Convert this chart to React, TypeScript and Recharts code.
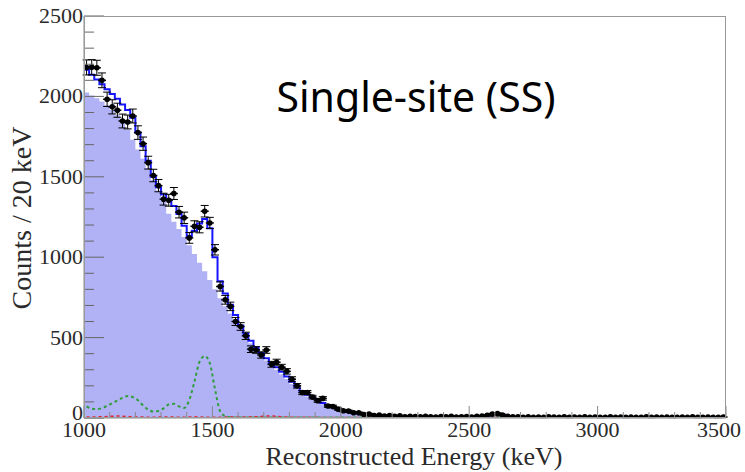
import React from "react";
import {
  ComposedChart,
  Area,
  Line,
  Scatter,
  ErrorBar,
  XAxis,
  YAxis,
} from "recharts";

// 20 keV bins from 1000 to 3500 keV (125 bins)
const BIN_START = 1000;
const BIN_WIDTH = 20;

const X_TICKS = [
  1000, 1100, 1200, 1300, 1400, 1500, 1600, 1700, 1800, 1900, 2000, 2100, 2200,
  2300, 2400, 2500, 2600, 2700, 2800, 2900, 3000, 3100, 3200, 3300, 3400, 3500,
];
const Y_TICKS = [
  0, 100, 200, 300, 400, 500, 600, 700, 800, 900, 1000, 1100, 1200, 1300, 1400,
  1500, 1600, 1700, 1800, 1900, 2000, 2100, 2200, 2300, 2400, 2500,
];

// total fit (blue step line)
const totalFit = [
  2165, 2135, 2105, 2075, 2045, 2015, 1985, 1950, 1915, 1868,
  1775, 1690, 1600, 1500, 1435, 1390, 1358, 1318, 1268, 1195,
  1130, 1165, 1210, 1238, 1180, 1000, 850, 775, 705, 640,
  575, 525, 480, 440, 405, 372, 342, 315, 288, 258,
  225, 192, 163, 145, 128, 110, 94, 80, 68, 56,
  47, 40, 34, 30, 26, 22, 19, 16, 14, 13,
  12, 11, 10, 10, 9, 9, 9, 8, 8, 8,
  8, 8, 8, 8, 8, 8, 9, 11, 15, 22,
  26, 20, 12, 8, 7, 7, 6, 6, 6, 6,
  6, 6, 6, 6, 6, 6, 6, 6, 5, 5,
  5, 5, 5, 5, 5, 5, 5, 5, 5, 5,
  5, 5, 5, 5, 5, 5, 5, 5, 5, 5,
  5, 5, 5, 5, 5,
];

// background component (filled)
const background = [
  2025, 2005, 1988, 1968, 1945, 1915, 1882, 1845, 1795, 1730,
  1670, 1612, 1555, 1480, 1415, 1350, 1270, 1220, 1175, 1125,
  1075, 1020, 965, 912, 858, 800, 745, 695, 650, 608,
  555, 507, 465, 427, 392, 358, 328, 300, 272, 243,
  212, 180, 152, 134, 117, 100, 86, 73, 62, 51,
  43, 36, 31, 27, 23, 19, 16, 14, 12, 11,
  10, 9, 9, 8, 8, 8, 8, 7, 7, 7,
  7, 7, 7, 7, 7, 7, 8, 9, 12, 17,
  20, 15, 9, 6, 5, 5, 5, 5, 5, 5,
  5, 5, 5, 5, 5, 5, 5, 5, 5, 5,
  4, 4, 4, 4, 4, 4, 4, 4, 4, 4,
  4, 4, 4, 4, 4, 4, 4, 4, 4, 4,
  4, 4, 4, 4, 4,
];

// measured counts
const counts = [
  2180, 2182, 2178, 2100, 1982, 1935, 1914, 1847, 1841, 1878,
  1775, 1706, 1588, 1508, 1445, 1361, 1354, 1396, 1280, 1245,
  1120, 1192, 1186, 1286, 1213, 1046, 818, 735, 694, 600,
  569, 511, 428, 423, 392, 423, 334, 347, 316, 290,
  241, 200, 158, 158, 130, 108, 122, 75, 71, 55,
  45, 43, 33, 32, 22, 24, 16, 18, 12, 15,
  10, 13, 8, 11, 9, 7, 10, 8, 6, 9,
  7, 10, 6, 8, 9, 6, 10, 12, 17, 24,
  27, 18, 11, 7, 8, 5, 7, 5, 6, 4,
  7, 6, 5, 8, 4, 6, 5, 7, 5, 6,
  4, 5, 7, 5, 6, 4, 6, 5, 5, 7,
  4, 6, 5, 6, 4, 5, 6, 5, 7, 4,
  5, 6, 5, 4, 6,
];

// 40K component (green dashed)
const k40 = [
  72, 58, 55, 62, 76, 92, 108, 125, 137, 130,
  110, 78, 52, 40, 44, 60, 84, 88, 72, 62,
  112, 225, 350, 385, 340, 180, 42, 12, 5, 3,
  3, 3, 3, 3, 3, 3, 3, 3, 3, 3,
  3, 3, 3, 3, 3, 3, 3, 3, 3, 3,
  3, 3, 3, 3, 3, 3, 3, 3, 3, 3,
  3, 3, 3, 3, 3, 3, 3, 3, 3, 3,
  3, 3, 3, 3, 3, 3, 3, 3, 3, 3,
  3, 3, 3, 3, 3, 3, 3, 3, 3, 3,
  3, 3, 3, 3, 3, 3, 3, 3, 3, 3,
  3, 3, 3, 3, 3, 3, 3, 3, 3, 3,
  3, 3, 3, 3, 3, 3, 3, 3, 3, 3,
  3, 3, 3, 3, 3,
];

// small component near zero (red)
const minor = [
  6, 6, 7, 8, 9, 11, 12, 11, 9, 7,
  6, 6, 5, 5, 6, 6, 7, 6, 5, 5,
  6, 7, 6, 5, 5, 5, 5, 6, 7, 6,
  6, 6, 7, 8, 10, 12, 13, 11, 8, 6,
  5, 5, 4, 4, 4, 4, 3, 3, 3, 3,
  3, 3, 3, 3, 3, 3, 3, 3, 3, 3,
  3, 3, 3, 3, 3, 3, 3, 3, 3, 3,
  3, 3, 3, 3, 3, 3, 3, 3, 3, 3,
  3, 3, 3, 3, 3, 3, 3, 3, 3, 3,
  3, 3, 3, 3, 3, 3, 3, 3, 3, 3,
  3, 3, 3, 3, 3, 3, 3, 3, 3, 3,
  3, 3, 3, 3, 3, 3, 3, 3, 3, 3,
  3, 3, 3, 3, 3,
];

const binCenter = (i: number) => BIN_START + BIN_WIDTH * i + BIN_WIDTH / 2;

// step histogram: start at 0 on the left edge, close on the right edge
const toSteps = (vals: number[]) => [
  { x: BIN_START, y: 0 },
  ...vals.map((v, i) => ({ x: BIN_START + BIN_WIDTH * i, y: v })),
  { x: BIN_START + BIN_WIDTH * vals.length, y: vals[vals.length - 1] },
];

const toPoints = (vals: number[]) =>
  vals.map((v, i) => ({ x: binCenter(i), y: v }));

const fillData = toSteps(background);
const totalData = toSteps(totalFit);
const countData = counts.map((v, i) => ({
  x: binCenter(i),
  y: v,
  err: Math.sqrt(v),
}));
const k40Data = toPoints(k40);
const minorData = toPoints(minor);

const W = 745;
const H = 472;
// plot area: x 84..726, y 16..418
const PLOT = { left: 84, top: 16, right: 726, bottom: 418 };
const Y_AXIS_W = 60;
const X_AXIS_H = 30;
const M = {
  top: PLOT.top,
  right: W - PLOT.right,
  bottom: H - PLOT.bottom - X_AXIS_H,
  left: PLOT.left - Y_AXIS_W,
};
const TEXT = "#2a2a2a";
const SERIF = "'Liberation Serif', 'DejaVu Serif', serif";

const XTick = (props: any) => {
  const { x, payload } = props;
  const y = PLOT.bottom;
  const major = payload.value % 500 === 0;
  const last = payload.value === 3500;
  return (
    <g>
      <line x1={x} x2={x} y1={y} y2={y - (major ? 12 : 6)} stroke="#888" />
      {major && (
        <text
          x={last ? x + 15 : x}
          y={y + 19}
          textAnchor={last ? "end" : "middle"}
          fontFamily={SERIF}
          fontSize={22}
          fill={TEXT}
        >
          {payload.value}
        </text>
      )}
    </g>
  );
};

const YTick = (props: any) => {
  const { y, payload } = props;
  const x = PLOT.left;
  const major = payload.value % 500 === 0;
  return (
    <g>
      <line x1={x} x2={x + (major ? 20 : 10)} y1={y} y2={y} stroke="#666" />
      {major && (
        <text
          x={x - 1}
          y={payload.value === 0 ? y + 2 : y + 7}
          textAnchor="end"
          fontFamily={SERIF}
          fontSize={22}
          fill={TEXT}
        >
          {payload.value}
        </text>
      )}
    </g>
  );
};

const DataPoint = (props: any) => {
  const { cx, cy } = props;
  return (
    <g>
      <line x1={cx - 4} x2={cx + 4} y1={cy} y2={cy} stroke="#000" strokeWidth={1.5} />
      <circle cx={cx} cy={cy} r={2.8} fill="#000" />
    </g>
  );
};

export default function App() {
  return (
    <div style={{ position: "absolute", left: 0, top: 0, width: W, height: H, background: "#fff" }}>
      <ComposedChart width={W} height={H} margin={M}>
        <XAxis
          type="number"
          dataKey="x"
          domain={[1000, 3500]}
          ticks={X_TICKS}
          interval={0}
          height={X_AXIS_H}
          tickLine={false}
          tick={<XTick />}
          axisLine={{ stroke: "#888" }}
          allowDataOverflow
        />
        <YAxis
          type="number"
          domain={[0, 2500]}
          ticks={Y_TICKS}
          interval={0}
          width={Y_AXIS_W}
          tickLine={false}
          tick={<YTick />}
          axisLine={{ stroke: "#888" }}
          allowDataOverflow
        />
        <Area
          data={fillData}
          dataKey="y"
          type="stepAfter"
          fill="#b1b1f6"
          fillOpacity={1}
          stroke="none"
          isAnimationActive={false}
        />
        <Line
          data={minorData}
          dataKey="y"
          type="monotone"
          stroke="#e0202a"
          strokeWidth={1.5}
          strokeDasharray="3 3"
          dot={false}
          isAnimationActive={false}
        />
        <Line
          data={k40Data}
          dataKey="y"
          type="monotone"
          stroke="#2f9e3a"
          strokeWidth={2}
          strokeDasharray="3 3"
          dot={false}
          isAnimationActive={false}
        />
        <Line
          data={totalData}
          dataKey="y"
          type="stepAfter"
          stroke="#1515ff"
          strokeWidth={2}
          dot={false}
          isAnimationActive={false}
        />
        <Scatter
          data={countData}
          dataKey="y"
          fill="#000"
          shape={<DataPoint />}
          isAnimationActive={false}
        >
          <ErrorBar dataKey="err" direction="y" width={4} stroke="#000" strokeWidth={1} />
        </Scatter>
      </ComposedChart>
      <div
        style={{
          position: "absolute",
          left: PLOT.left,
          top: PLOT.top,
          width: PLOT.right - PLOT.left,
          height: PLOT.bottom - PLOT.top,
          border: "1px solid #999",
          boxSizing: "border-box",
          pointerEvents: "none",
        }}
      />
      <div
        style={{
          position: "absolute",
          left: 416 - 200,
          width: 400,
          top: 68,
          textAlign: "center",
          fontFamily: "'Noto Sans', sans-serif",
          fontSize: 41,
          color: "#000",
          lineHeight: "56px",
        }}
      >
        Single-site (SS)
      </div>
      <div
        style={{
          position: "absolute",
          left: 414 - 200,
          width: 400,
          top: 444,
          textAlign: "center",
          fontFamily: SERIF,
          fontSize: 26,
          color: TEXT,
          lineHeight: "26px",
        }}
      >
        Reconstructed Energy (keV)
      </div>
      <div
        style={{
          position: "absolute",
          left: 22 - 110,
          top: 218 - 15,
          width: 220,
          textAlign: "center",
          fontFamily: SERIF,
          fontSize: 28,
          color: TEXT,
          lineHeight: "30px",
          transform: "rotate(-90deg)",
        }}
      >
        Counts / 20 keV
      </div>
    </div>
  );
}
